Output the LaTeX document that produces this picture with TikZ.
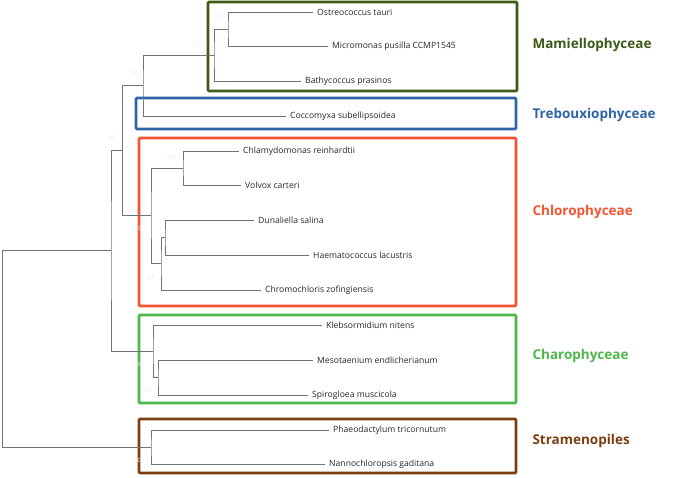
\documentclass[tikz,border=0pt]{standalone}
\usepackage{fontspec}
\setmainfont{Open Sans}
\begin{document}
\begin{tikzpicture}[x=1pt,y=-1pt,
  leaf/.style={anchor=west,inner sep=0pt,font=\fontsize{8.6}{10}\selectfont,text=black!85},
  br/.style={draw=black!55,line width=0.9pt},
  box/.style={line width=2.6pt,rounded corners=1pt},
  clade/.style={font=\bfseries\fontsize{13.5}{15}\selectfont,anchor=west},
  bs/.style={font=\fontsize{6}{7}\selectfont,text=black!8,inner sep=0pt}]
\useasboundingbox (0,0) rectangle (685,477);
\definecolor{cMam}{HTML}{3D5A16}
\definecolor{cTre}{HTML}{2F64A8}
\definecolor{cChl}{HTML}{F2552F}
\definecolor{cCha}{HTML}{4CB849}
\definecolor{cStr}{HTML}{7A3E10}
% boxes
\draw[box,cMam] (208,2) rectangle (517,91);
\draw[box,cTre] (136,98) rectangle (516,129);
\draw[box,cChl] (139,138) rectangle (516,306);
\draw[box,cCha] (139,315) rectangle (516,403);
\draw[box,cStr] (139,419) rectangle (516,473);
% clade labels
\node[clade,text=cMam] (lMam) at (529,45) {Mamiellophyceae};
\node[clade,text=cTre] (lTre) at (529,115) {Trebouxiophyceae};
\node[clade,text=cChl] (lChl) at (529,212) {Chlorophyceae};
\node[clade,text=cCha] (lCha) at (529,356) {Charophyceae};
\node[clade,text=cStr] (lStr) at (529,441) {Stramenopiles};
% leaves
\node[leaf] (L1) at (317,12) {Ostreococcus tauri};
\node[leaf] (L2) at (332,46) {Micromonas pusilla CCMP1545};
\node[leaf] (L3) at (305,81) {Bathycoccus prasinos};
\node[leaf] (L4) at (290,116) {Coccomyxa subellipsoidea};
\node[leaf] (L5) at (243,151) {Chlamydomonas reinhardtii};
\node[leaf] (L6) at (245,185) {Volvox carteri};
\node[leaf] (L7) at (258,220) {Dunaliella salina};
\node[leaf] (L8) at (313,255) {Haematococcus lacustris};
\node[leaf] (L9) at (265,290) {Chromochloris zofingiensis};
\node[leaf] (L10) at (326,325) {Klebsormidium nitens};
\node[leaf] (L11) at (317,360) {Mesotaenium endlicherianum};
\node[leaf] (L12) at (312,395) {Spirogloea muscicola};
\node[leaf] (L13) at (333,430) {Phaeodactylum tricornutum};
\node[leaf] (L14) at (329,464) {Nannochloropsis gaditana};
% internal nodes
\coordinate (n1) at (228,29);
\coordinate (n2) at (214,55);
\coordinate (n3) at (143,85);
\coordinate (n4) at (122,150);
\coordinate (c1) at (183,168);
\coordinate (c2) at (165,237);
\coordinate (c3) at (161,263);
\coordinate (c4) at (151,215);
\coordinate (h1) at (158,377);
\coordinate (h2) at (153,351);
\coordinate (n5) at (111,250);
\coordinate (s1) at (151,447);
\coordinate (root) at (2,447);
% branches
\draw[br] ([xshift=-4pt]L1.west) -| (n1) |- ([xshift=-4pt]L2.west);
\draw[br] (n1) -| (n2) |- ([xshift=-4pt]L3.west);
\draw[br] (n2) -| (n3) |- ([xshift=-4pt]L4.west);
\draw[br] (n3) -| (n4);
\draw[br] ([xshift=-4pt]L5.west) -| (c1) |- ([xshift=-4pt]L6.west);
\draw[br] ([xshift=-4pt]L7.west) -| (c2) |- ([xshift=-4pt]L8.west);
\draw[br] (c2) -| (c3) |- ([xshift=-4pt]L9.west);
\draw[br] (c1) -| (c4) |- (c3);
\draw[br] (n4) |- (c4);
\draw[br] ([xshift=-4pt]L11.west) -| (h1) |- ([xshift=-4pt]L12.west);
\draw[br] ([xshift=-4pt]L10.west) -| (h2) |- (h1);
\draw[br] (n4) -| (n5) |- (h2);
\draw[br] ([xshift=-4pt]L13.west) -| (s1) |- ([xshift=-4pt]L14.west);
\draw[br] (n5) -| (root) -- (s1);
% faint support values
\node[bs] (b1) at (218,16) {84};
\node[bs] (b2) at (199,43) {100};
\node[bs] (b3) at (134,73) {99};
\node[bs] (b4) at (111,138) {65};
\node[bs] (b5) at (170,157) {100};
\node[bs] (b6) at (136,228) {100};
\node[bs] (b7) at (151,277) {83};
\node[bs] (b8) at (137,364) {100};
\node[bs] (b9) at (148,390) {97};
\node[bs] (b10) at (136,460) {100};
\end{tikzpicture}
\end{document}
